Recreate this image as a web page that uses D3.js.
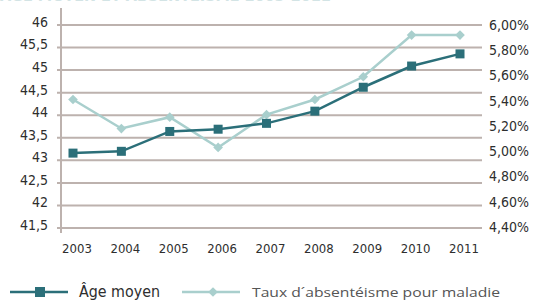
<!DOCTYPE html>
<html>
<head>
<meta charset="UTF-8">
<script src="https://d3js.org/d3.v7.min.js"></script>
<style>
  body { margin: 0; background: #fff; }
  svg { display: block; }
  text { font-family: "DejaVu Sans Condensed", "Liberation Sans Narrow", sans-serif; }
</style>
</head>
<body>
<svg id="chart" width="538" height="302"></svg>
<script>
// data
const years = [2003, 2004, 2005, 2006, 2007, 2008, 2009, 2010, 2011]
const ageMoyen = [43.16, 43.2, 43.64, 43.69, 43.82, 44.09, 44.62, 45.09, 45.36]
const absenteisme = [5.41, 5.18, 5.27, 5.03, 5.29, 5.41, 5.59, 5.92, 5.92]
const leftTicks = [46, 45.5, 45, 44.5, 44, 43.5, 43, 42.5, 42, 41.5]
const rightTicks = [6.0, 5.8, 5.6, 5.4, 5.2, 5.0, 4.8, 4.6, 4.4]
const seriesNames = ['Âge moyen', 'Taux d\u00b4absentéisme pour maladie']

const dark = '#2b6f79'
const light = '#a9cfcd'
const grid = '#bdb2ae'
const ink = '#2e2e2e'

const svg = d3.select('#chart')

const x = d3.scalePoint().domain(years).range([73, 460])
const yLeft = d3.scaleLinear().domain([41.5, 46]).range([228, 25])
const yRight = d3.scaleLinear().domain([4.4, 6.0]).range([227, 25])

const fmtLeft = d => d3.format('')(d).replace('.', ',')
const fmtRight = d => d3.format('.2f')(d).replace('.', ',') + '%'

// title, mostly above the visible area (only its lower edge shows)
svg.append('text')
  .attr('x', 0).attr('y', 1)
  .style('font-size', '16px').style('font-weight', 'bold')
  .style('fill', '#d3e4e5')
  .text('ÂGE MOYEN ET ABSENTÉISME 2003-2011')

// gridlines
svg.append('g').selectAll('line')
  .data(leftTicks)
  .join('line')
  .attr('x1', 57).attr('x2', 482)
  .attr('y1', d => yLeft(d)).attr('y2', d => yLeft(d))
  .style('stroke', grid).style('stroke-width', 2)

// left vertical axis line
svg.append('line')
  .attr('x1', 61).attr('x2', 61)
  .attr('y1', 8).attr('y2', 233)
  .style('stroke', grid).style('stroke-width', 2)

// left axis labels
svg.append('g').selectAll('text')
  .data(leftTicks)
  .join('text')
  .attr('x', 48)
  .attr('y', d => yLeft(d) - 3)
  .attr('dy', '0.35em')
  .attr('text-anchor', 'end')
  .style('font-size', '14px')
  .style('fill', ink)
  .text(fmtLeft)

// right axis labels
svg.append('g').selectAll('text')
  .data(rightTicks)
  .join('text')
  .attr('x', 489)
  .attr('y', d => yRight(d))
  .attr('dy', '0.35em')
  .style('font-size', '14px')
  .style('fill', ink)
  .text(fmtRight)

// x labels
svg.append('g').selectAll('text')
  .data(years)
  .join('text')
  .attr('x', d => x(d) + 4)
  .attr('y', 248)
  .attr('dy', '0.35em')
  .attr('text-anchor', 'middle')
  .style('font-size', '13px')
  .style('fill', ink)
  .text(d => d)

const diamond = d3.symbol().type(d3.symbolDiamond2).size(60)

// absenteeism line (light)
svg.append('path')
  .datum(years.map((y, i) => [y, absenteisme[i]]))
  .attr('d', d3.line().x(d => x(d[0])).y(d => yRight(d[1])))
  .style('fill', 'none').style('stroke', light).style('stroke-width', 2.5)

svg.append('g').selectAll('path')
  .data(years.map((y, i) => [y, absenteisme[i]]))
  .join('path')
  .attr('d', diamond)
  .attr('transform', d => `translate(${x(d[0])},${yRight(d[1])})`)
  .style('fill', light)

// age line (dark)
svg.append('path')
  .datum(years.map((y, i) => [y, ageMoyen[i]]))
  .attr('d', d3.line().x(d => x(d[0])).y(d => yLeft(d[1])))
  .style('fill', 'none').style('stroke', dark).style('stroke-width', 2.5)

svg.append('g').selectAll('rect')
  .data(years.map((y, i) => [y, ageMoyen[i]]))
  .join('rect')
  .attr('x', d => x(d[0]) - 4.5)
  .attr('y', d => yLeft(d[1]) - 4.5)
  .attr('width', 9).attr('height', 9)
  .style('fill', dark)

// legend
const ly = 292
svg.append('line').attr('x1', 10).attr('x2', 68).attr('y1', ly).attr('y2', ly)
  .style('stroke', dark).style('stroke-width', 2.5)
svg.append('rect').attr('x', 35).attr('y', ly - 5).attr('width', 10).attr('height', 10)
  .style('fill', dark)
svg.append('text').attr('x', 79).attr('y', ly).attr('dy', '0.35em')
  .style('font-size', '15px').style('fill', ink)
  .attr('textLength', 81).attr('lengthAdjust', 'spacingAndGlyphs')
  .text(seriesNames[0])

svg.append('line').attr('x1', 182).attr('x2', 240).attr('y1', ly).attr('y2', ly)
  .style('stroke', light).style('stroke-width', 2.5)
svg.append('path').attr('d', diamond)
  .attr('transform', `translate(213,${ly})`)
  .style('fill', light)
svg.append('text').attr('x', 252).attr('y', ly).attr('dy', '0.35em')
  .style('font-size', '13px').style('fill', '#555')
  .style('font-family', '"Open Sans", sans-serif')
  .attr('textLength', 248).attr('lengthAdjust', 'spacingAndGlyphs')
  .text(seriesNames[1])
</script>
</body>
</html>
